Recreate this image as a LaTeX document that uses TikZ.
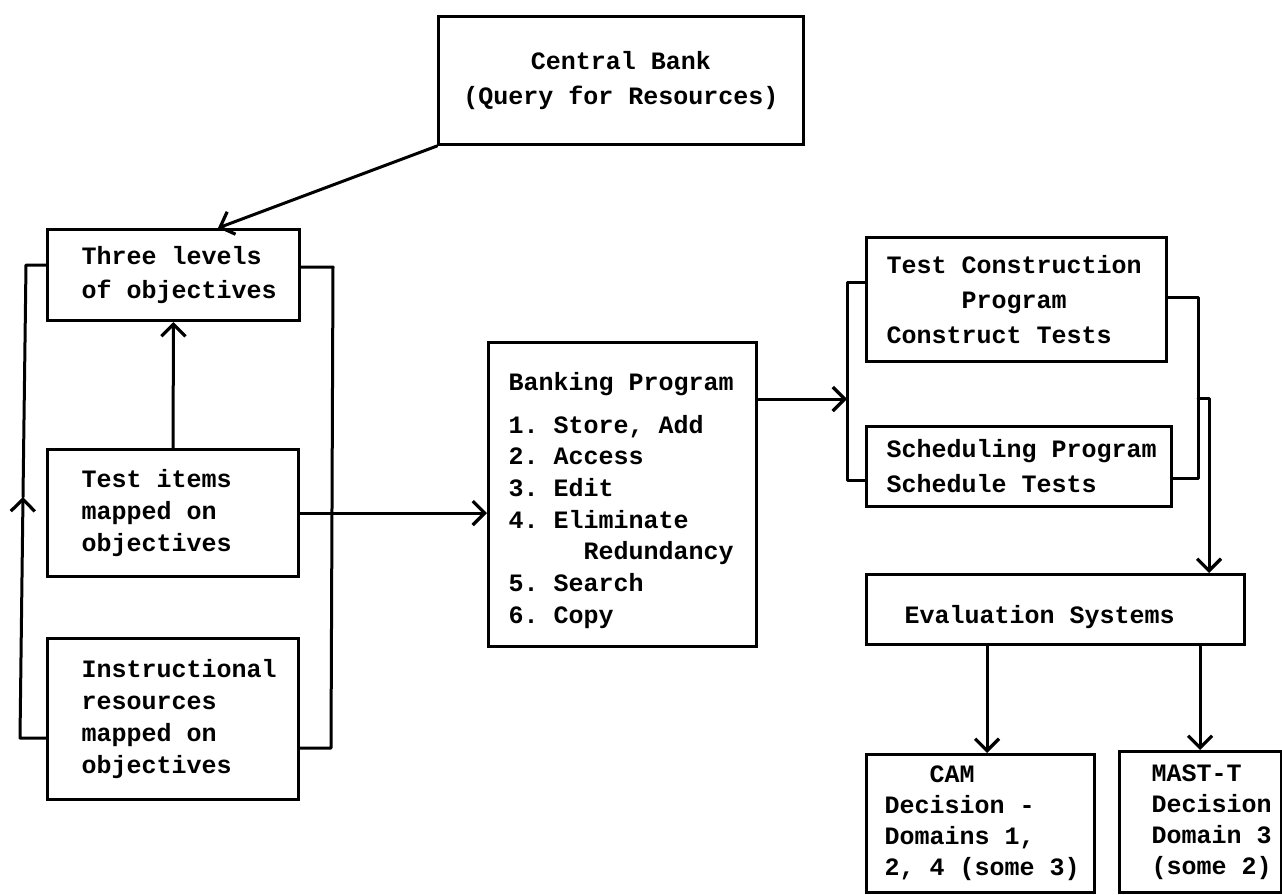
\documentclass[tikz,border=0pt]{standalone}
\usepackage{fontspec}
\setmonofont{Liberation Mono}
\usetikzlibrary{arrows.meta,calc}
\hfuzz=200pt \hbadness=10000
\newcommand\typefont[1]{\fontsize{25}{#1}\selectfont\ttfamily\bfseries}
\newcommand\tline[1]{\mbox{\frenchspacing\spaceskip=15pt\relax\xspaceskip=15pt\relax #1}}
\tikzset{
  txt/.style={font={\typefont{#1}}},
  box/.style={draw, line width=3pt, inner sep=0pt, anchor=north west, align=left},
  conn/.style={line width=3pt, line cap=round, line join=round},
  arr/.style={conn, -{Straight Barb[length=12pt,width=24pt,line width=3.2pt]}},
}
\begin{document}
\begin{tikzpicture}[x=1pt,y=-1pt]
\useasboundingbox (0,0) rectangle (1282,894);

% boxes
\node[box, txt=35, align=center, minimum width=365pt, minimum height=128pt, text width=365pt] (cb) at (437,15)
  {\tline{Central Bank}\\\tline{(Query for Resources)}};
\node[box, txt=34, minimum width=252pt, minimum height=91pt, text width=184pt] (three) at (46,228)
  {\tline{Three levels}\\\tline{of objectives}};
\node[box, txt=32, minimum width=251pt, minimum height=127pt, text width=183pt] (test) at (46,448)
  {\tline{Test items}\\\tline{mapped on}\\\tline{objectives}};
\node[box, txt=32, minimum width=251pt, minimum height=161pt, text width=183pt] (instr) at (46,637)
  {\tline{Instructional}\\\tline{resources}\\\tline{mapped on}\\\tline{objectives}};
\node[box, txt=31.7, minimum width=268pt, minimum height=304pt, text width=228pt, text height=30pt] (bank) at (487,341)
  {\tline{Banking Program}\\[11pt]\tline{1. Store, Add}\\\tline{2. Access}\\\tline{3. Edit}\\\tline{4. Eliminate}\\\tline{\hspace*{75pt}Redundancy}\\\tline{5. Search}\\\tline{6. Copy}};
\node[box, txt=35, minimum width=300pt, minimum height=124pt, text width=260pt] (tc) at (865,236)
  {\tline{Test Construction}\\\tline{\hspace*{75pt}Program}\\\tline{Construct Tests}};
\node[box, txt=35, minimum width=305pt, minimum height=80pt, text width=265pt] (sp) at (865,425)
  {\tline{Scheduling Program}\\\tline{Schedule Tests}};
\node[box, txt=32, minimum width=378pt, minimum height=70pt, text width=302pt, text height=34pt, text depth=6pt] (eval) at (865,573)
  {\tline{Evaluation Systems}};
\node[box, txt=31, minimum width=228pt, minimum height=138pt, text width=192pt] (cam) at (865,753)
  {\tline{\hspace*{45pt}CAM}\\\tline{Decision -}\\\tline{Domains 1,}\\\tline{2, 4 (some 3)}};
\node[box, txt=31, minimum width=162pt, minimum height=141pt, text width=98pt] (mast) at (1118,750)
  {\tline{MAST-T}\\\tline{Decision}\\\tline{Domain 3}\\\tline{(some 2)}};

% coordinates for connector bends
\coordinate (T1) at (218,228);
\coordinate (L1) at (20,738);
\coordinate (L2) at (23,497);
\coordinate (L3) at (26,265);
\coordinate (R1) at (333,267);
\coordinate (R2) at (331,748);
\coordinate (B1) at (847,399);
\coordinate (LB1) at (847,282);
\coordinate (LB2) at (847,480);
\coordinate (RB1) at (1198,297);
\coordinate (RB2) at (1198,478);
\coordinate (O1) at (1198,398);
\coordinate (O2) at (1209,398);
\coordinate (C1) at (987,0);
\coordinate (M1) at (1200,0);

% connectors
\draw[arr] (cb.south west) -- (T1);
\draw[arr] (test.north) -- (three.south);
\draw[arr] (instr.west |- L1) -- (L1) -- (L2);
\draw[conn] (L2) -- (L3) -- (three.west |- L3);
\draw[conn] (three.east |- R1) -- (R1) -- (R2) -- (instr.east |- R2);
\draw[arr] (test.east) -- (test.east -| bank.west);
\draw[arr] (bank.east |- B1) -- (B1);
\draw[conn] (tc.west |- LB1) -- (LB1) -- (LB2) -- (sp.west |- LB2);
\draw[conn] (tc.east |- RB1) -- (RB1) -- (RB2) -- (sp.east |- RB2);
\draw[arr] (O1) -- (O2) -- (O2 |- eval.north);
\draw[arr] (eval.south -| C1) -- (cam.north -| C1);
\draw[arr] (eval.south -| M1) -- (mast.north -| M1);
\end{tikzpicture}
\end{document}
